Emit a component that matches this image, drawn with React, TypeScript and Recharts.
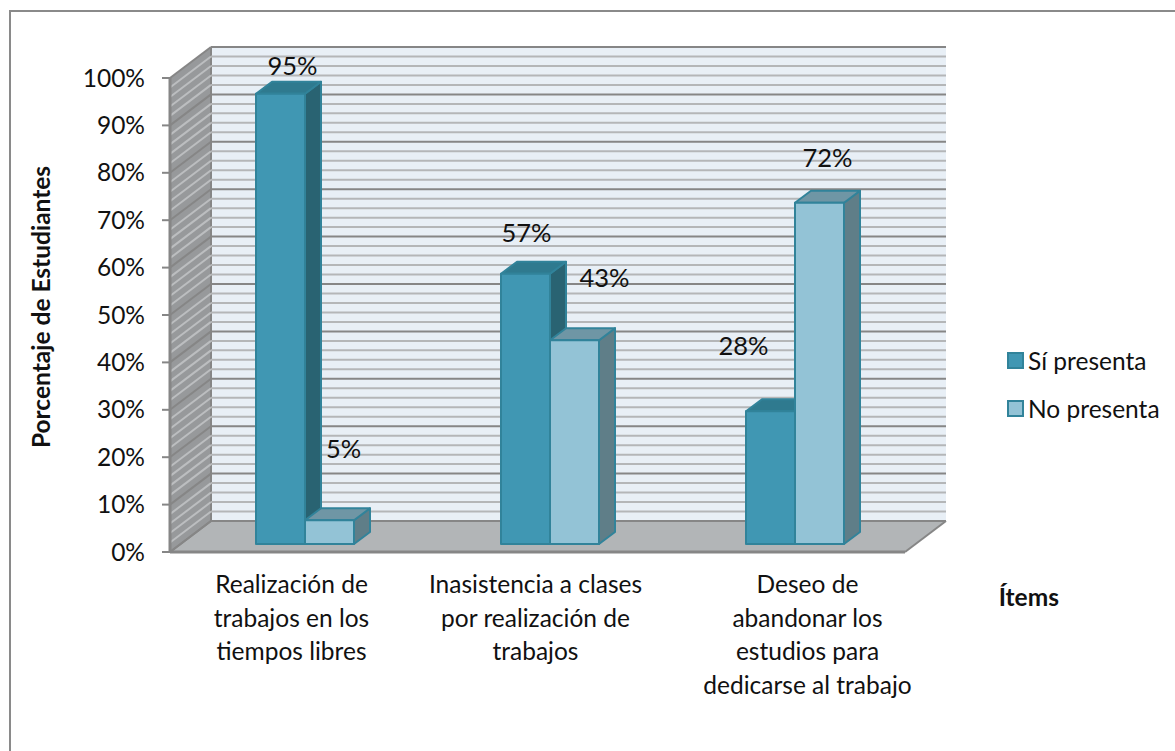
import { BarChart, Bar, XAxis, YAxis, CartesianGrid, Legend, LabelList } from "recharts";

const categories = [
  "Realización de trabajos en los tiempos libres",
  "Inasistencia a clases por realización de trabajos",
  "Deseo de abandonar los estudios para dedicarse al trabajo",
];
const siPresenta = [95, 57, 28];
const noPresenta = [5, 43, 72];
const yTicks = [0, 10, 20, 30, 40, 50, 60, 70, 80, 90, 100];
const minorTicks = [
  2, 4, 6, 8, 12, 14, 16, 18, 22, 24, 26, 28, 32, 34, 36, 38, 42, 44, 46, 48, 52, 54, 56, 58, 62, 64, 66, 68, 72, 74,
  76, 78, 82, 84, 86, 88, 92, 94, 96, 98,
];
const tickLines = [
  ["Realización de", "trabajos en los", "tiempos libres"],
  ["Inasistencia a clases", "por realización de", "trabajos"],
  ["Deseo de", "abandonar los", "estudios para", "dedicarse al trabajo"],
];
const legendOrder = ["Sí presenta", "No presenta"];

const data = categories.map((name, i) => ({ name, si: siPresenta[i], no: noPresenta[i] }));

// hand placed labels in the original, offset from the top centre of each bar
const siNudge = [[12, -29], [1, -42], [-27, -66]];
const noNudge = [[14, -72], [30, -63], [8, -46]];
const tickNudge = [-1, -2, 25];

const FONT = "Lato, 'Open Sans', sans-serif";
const FONT_SIZE = 24.5;
const GRID_MAJOR = "#868686";
const GRID_MINOR = "#b4b6b8";
const DEPTH_X = 41;
const DEPTH_Y = 31;
const BAR_DX = 12;
const BAR_DY = -8;
const SIDE_X = 16;
const SIDE_Y = 12;
const BAR_STROKE = "#31839a";

function pts(list: number[][]) {
  return list.map((p) => p.join(",")).join(" ");
}

function Bar3D(props: any) {
  const { x, y, width, height, front, top, side } = props;
  const l = x + BAR_DX;
  const r = l + width;
  const t = y + BAR_DY;
  const b = t + height;
  return (
    <g stroke={BAR_STROKE} strokeWidth={2} strokeLinejoin="round">
      <polygon points={pts([[r, t], [r + SIDE_X, t - SIDE_Y], [r + SIDE_X, b - SIDE_Y], [r, b]])} fill={side} />
      <polygon points={pts([[l, t], [l + SIDE_X, t - SIDE_Y], [r + SIDE_X, t - SIDE_Y], [r, t]])} fill={top} />
      <rect x={l} y={t} width={width} height={height} fill={front} />
    </g>
  );
}

function gridLine(color: string, sideColor: string) {
  return (props: any) => {
    const { x1, x2, y1, index } = props;
    return (
      <g key={index} strokeWidth={2} fill="none">
        <line x1={x1} y1={y1} x2={x1 + DEPTH_X} y2={y1 - DEPTH_Y} stroke={sideColor} />
        <line x1={x1 + DEPTH_X} y1={y1 - DEPTH_Y} x2={x2 + DEPTH_X} y2={y1 - DEPTH_Y} stroke={color} />
      </g>
    );
  };
}

// back wall, side wall and floor sit under the grid lines
function wallsLine(props: any) {
  const { x1, x2, y1, index } = props;
  if (index !== 0) return <g key={index} />;
  const h = 474;
  const floorY = y1;
  const topY = floorY - h;
  return (
    <g key={index}>
      <polygon
        points={pts([[x1 + DEPTH_X, floorY - DEPTH_Y], [x2 + DEPTH_X, floorY - DEPTH_Y], [x2 + DEPTH_X, topY - DEPTH_Y], [x1 + DEPTH_X, topY - DEPTH_Y]])}
        fill="#e8eff6"
      />
      <polygon
        points={pts([[x1, floorY], [x1 + DEPTH_X, floorY - DEPTH_Y], [x1 + DEPTH_X, topY - DEPTH_Y], [x1, topY]])}
        fill="#97999b"
      />
      <polygon
        points={pts([[x1, floorY], [x1 + DEPTH_X, floorY - DEPTH_Y], [x2 + DEPTH_X, floorY - DEPTH_Y], [x2, floorY]])}
        fill="#b2b5b7"
      />
      <line x1={x1} y1={floorY} x2={x1 + DEPTH_X} y2={floorY - DEPTH_Y} stroke={GRID_MAJOR} strokeWidth={2} />
      <line x1={x1 + DEPTH_X} y1={floorY - DEPTH_Y} x2={x1 + DEPTH_X} y2={topY - DEPTH_Y} stroke={GRID_MAJOR} strokeWidth={2} />
      <line x1={x2} y1={floorY} x2={x2 + DEPTH_X} y2={floorY - DEPTH_Y} stroke={GRID_MAJOR} strokeWidth={2} />
    </g>
  );
}

function barLabel(nudge: number[][]) {
  return (props: any) => {
    const { x, y, width, value, index } = props;
    const cx = x + width / 2 + BAR_DX + nudge[index][0];
    const cy = y + BAR_DY + nudge[index][1];
    return (
      <text x={cx} y={cy} textAnchor="middle" dominantBaseline="central" fontFamily={FONT} fontSize={25.5} fill="#111">
        {value}%
      </text>
    );
  };
}

function CategoryTick(props: any) {
  const { x, y, index } = props;
  return (
    <text textAnchor="middle" fontFamily={FONT} fontSize={FONT_SIZE} fill="#111">
      {tickLines[index].map((line, i) => (
        <tspan key={line} x={x + tickNudge[index]} y={y + 33 + i * 33.5}>
          {line}
        </tspan>
      ))}
    </text>
  );
}

function LegendBox({ payload }: any) {
  // the payload comes in sorted by name and is empty on the first render
  const items = [...(payload ?? [])].sort((a: any, b: any) => legendOrder.indexOf(a.value) - legendOrder.indexOf(b.value));
  return (
    <div style={{ fontFamily: FONT, fontSize: FONT_SIZE, color: "#111" }}>
      {items.map((item: any) => (
        <div key={item.value} style={{ display: "flex", alignItems: "center", height: 48 }}>
          <span
            style={{
              width: 13,
              height: 13,
              marginRight: 4,
              background: item.color,
              border: `2px solid ${BAR_STROKE}`,
            }}
          />
          {item.value}
        </div>
      ))}
    </div>
  );
}

export default function App() {
  return (
    <div style={{ position: "absolute", left: 0, top: 0, width: 1175, height: 751, background: "#fff" }}>
      <div
        style={{
          position: "absolute",
          left: 9,
          top: 10,
          width: 1166,
          height: 741,
          boxSizing: "border-box",
          borderTop: "2px solid #8a8a8a",
          borderLeft: "2px solid #8a8a8a",
        }}
      />
      <BarChart
        width={1175}
        height={751}
        data={data}
        barSize={49}
        barGap={0}
        margin={{ top: 78, right: 270, bottom: 0, left: 0 }}
      >
        <CartesianGrid vertical={false} horizontalValues={[0]} horizontal={wallsLine} />
        <CartesianGrid vertical={false} horizontalValues={minorTicks} horizontal={gridLine(GRID_MINOR, "#bcbec0")} />
        <CartesianGrid vertical={false} horizontalValues={yTicks} horizontal={gridLine(GRID_MAJOR, GRID_MAJOR)} />
        <XAxis
          dataKey="name"
          height={199}
          axisLine={{ stroke: GRID_MAJOR, strokeWidth: 3 }}
          tickLine={false}
          interval={0}
          tick={CategoryTick}
          label={{
            value: "Ítems",
            position: "insideTopRight",
            dx: 159,
            dy: 32,
            style: { fontFamily: FONT, fontSize: FONT_SIZE, fontWeight: 700, fill: "#111" },
          }}
        />
        <YAxis
          width={170}
          domain={[0, 100]}
          ticks={yTicks}
          interval={0}
          tickFormatter={(v) => `${v}%`}
          axisLine={{ stroke: GRID_MAJOR, strokeWidth: 3 }}
          tickLine={{ stroke: GRID_MAJOR, strokeWidth: 2 }}
          tickSize={8}
          tickMargin={17}
          tick={{ fontFamily: FONT, fontSize: FONT_SIZE, fill: "#111" }}
          label={{
            value: "Porcentaje de Estudiantes",
            angle: -90,
            position: "insideLeft",
            dx: 36,
            dy: -8,
            style: { textAnchor: "middle", fontFamily: FONT, fontSize: 24.5, fontWeight: 700, fill: "#111" },
          }}
        />
        <Legend
          layout="horizontal"
          verticalAlign="middle"
          align="center"
          content={LegendBox}
          wrapperStyle={{ left: 1007, top: 336, width: 165, margin: 0 }}
        />
        <Bar
          dataKey="si"
          name="Sí presenta"
          fill="#4097b3"
          isAnimationActive={false}
          shape={(p: any) => <Bar3D {...p} front="#4097b3" top="#2f7a8f" side="#296372" />}
        >
          <LabelList dataKey="si" content={barLabel(siNudge)} />
        </Bar>
        <Bar
          dataKey="no"
          name="No presenta"
          fill="#93c3d6"
          isAnimationActive={false}
          shape={(p: any) => <Bar3D {...p} front="#93c3d6" top="#6f96a5" side="#5f7e88" />}
        >
          <LabelList dataKey="no" content={barLabel(noNudge)} />
        </Bar>
      </BarChart>
    </div>
  );
}
